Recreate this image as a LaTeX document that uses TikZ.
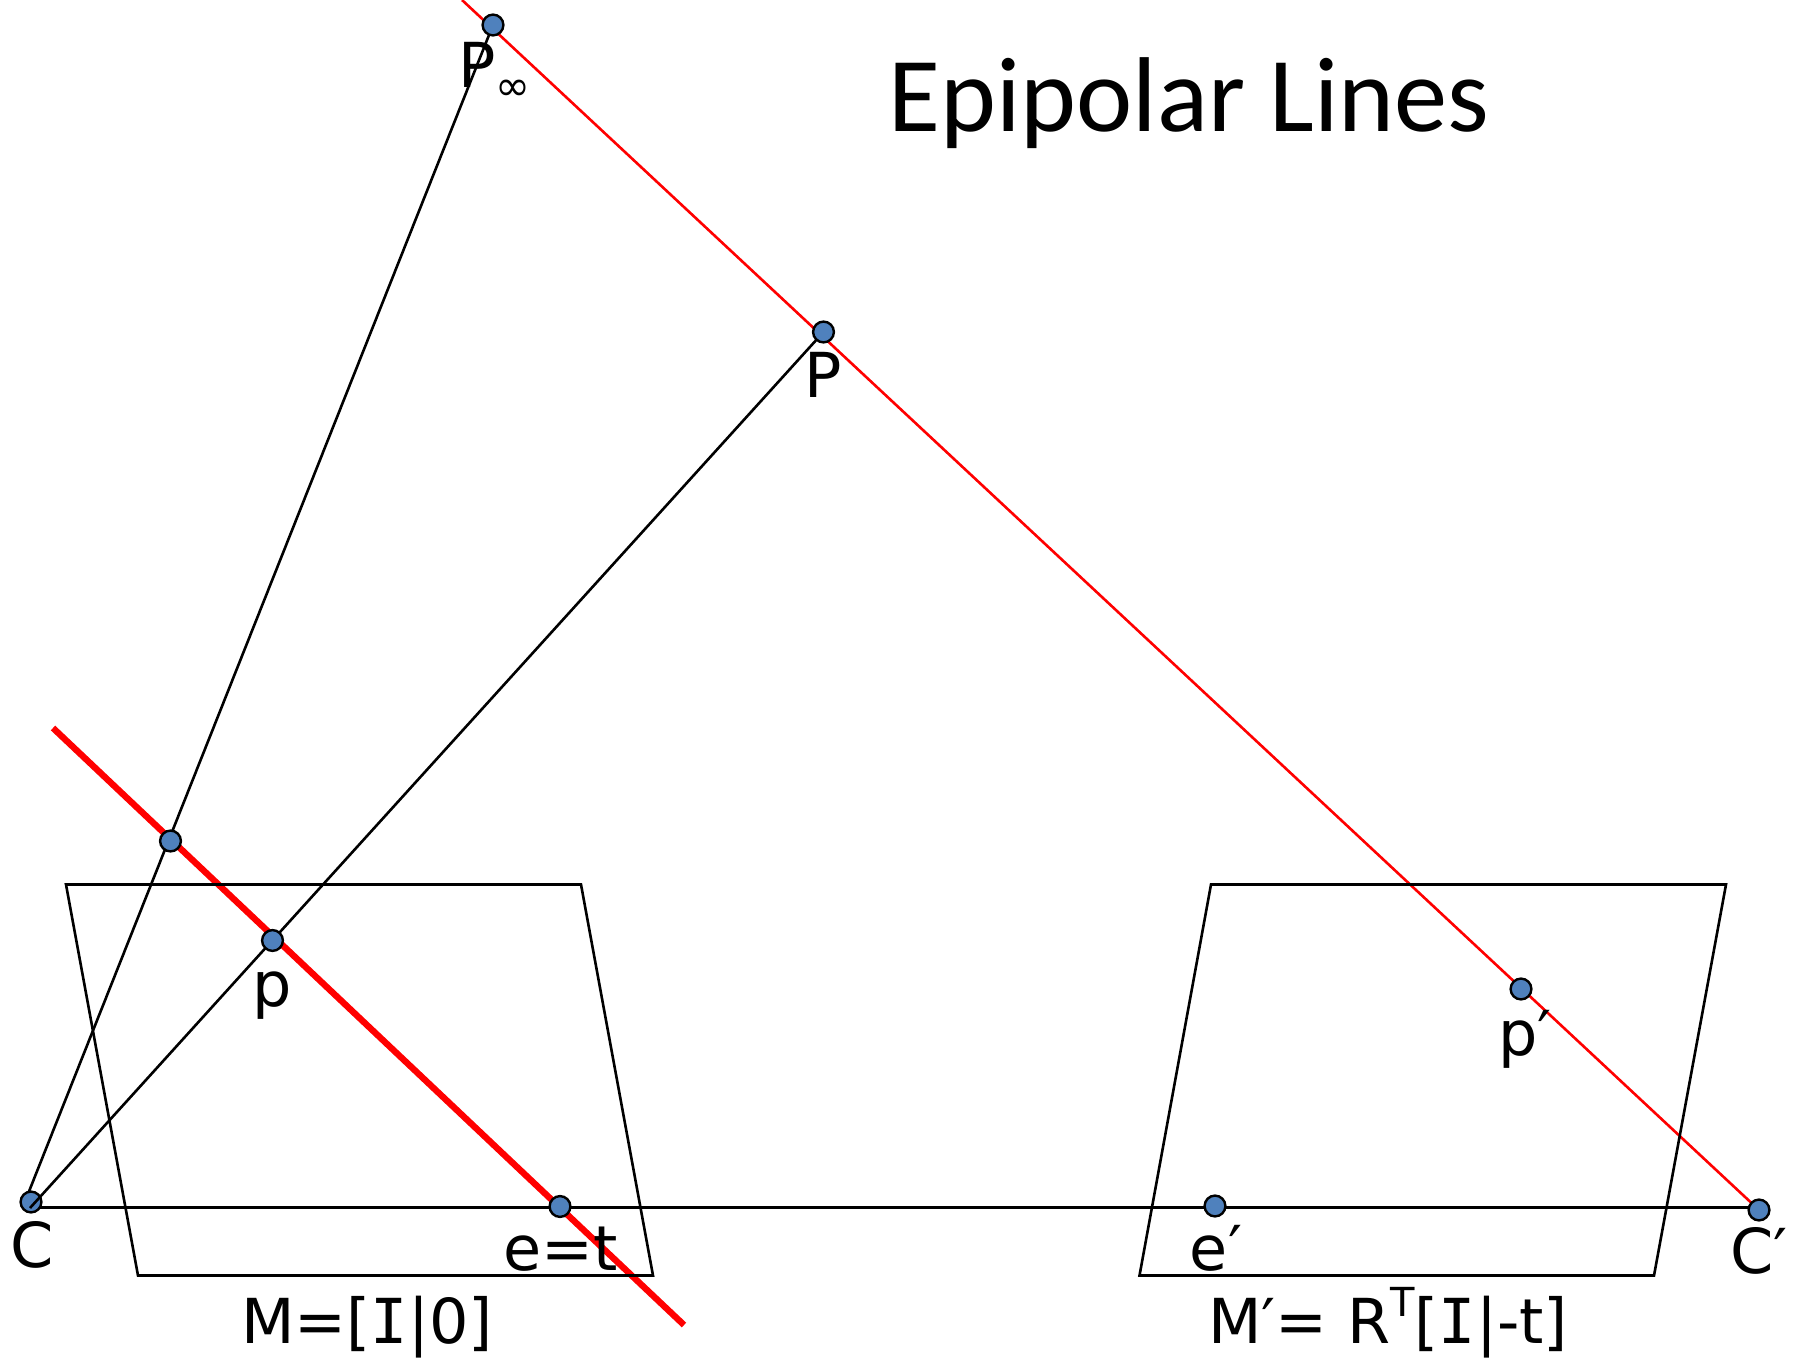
\documentclass[tikz,border=0pt]{standalone}
\usepackage{fontspec}
\setmainfont{DejaVu Sans}
\newfontfamily\titlefont{Carlito}
\newfontfamily\serifI{DejaVu Sans Mono}
\newfontfamily\symfont{DejaVu Sans}
\usetikzlibrary{backgrounds}
\definecolor{dotblue}{HTML}{4F81BD}
\newcommand{\labI}{{\serifI I}}
\tikzset{
  dot/.style={circle,draw=black,fill=dotblue,line width=1.2pt,minimum size=10.4pt,inner sep=0pt},
  blackline/.style={draw=black,line width=1.3pt},
  redthin/.style={draw=red,line width=1.3pt},
  redthick/.style={draw=red,line width=3.2pt},
  planebox/.style={draw=black,line width=1.3pt,line join=miter},
  lab/.style={anchor=base,inner sep=0pt,font=\fontsize{31}{31}\selectfont},
  titlelab/.style={anchor=base,inner sep=0pt,font=\titlefont\fontsize{53.2}{53.2}\selectfont}
}
\begin{document}
\begin{tikzpicture}[x=0.5pt,y=-0.5pt]
\useasboundingbox (0,0) rectangle (1803,1358);
% free ends
\coordinate (redtop) at (462,0);
\coordinate (thickA) at (53,728);
\coordinate (thickB) at (684,1325);
\coordinate (Cfoot) at (30,1208);
\coordinate (Cback) at (24,1204);
\coordinate (hL) at (36,1207.5);
\coordinate (hR) at (1752,1207.5);
% planes
\draw[planebox] (66,884.5) -- (581,884.5) -- (653,1275.5) -- (138,1275.5) -- cycle;
\draw[planebox] (1211,884.5) -- (1726,884.5) -- (1654,1275.5) -- (1139.5,1275.5) -- cycle;
% points on top
\node[dot] (Pinf) at (493,25) {};
\node[dot] (P) at (823.5,332) {};
\node[dot] (q) at (170.5,841) {};
\node[dot] (p) at (272.5,940.5) {};
\node[dot] (pp) at (1521,989) {};
\node[dot] (e) at (560,1206.5) {};
\node[dot] (ep) at (1215,1206) {};
\node[dot] (Cp) at (1759,1210) {};
\begin{scope}[on background layer]
  \draw[redthin] (redtop) -- (Cp.center);
  \draw[redthick] (thickA) -- (thickB);
  \draw[blackline] (hL) -- (hR);
  \draw[blackline] (Cback) -- (Pinf.center);
  \node[dot] (C) at (31,1202) {};
  \draw[blackline] (Cfoot) -- (P.center);
\end{scope}
% labels
\node[titlelab] (title) at (1189,132) {Epipolar Lines};
\node[lab,anchor=base west] (PinfL) at (458,88) {P};
\node[anchor=center,inner sep=0pt,font=\symfont\fontsize{21}{21}\selectfont] (infL) at (513,90) {∞};
\node[lab] (PL) at (823,397) {P};
\node[lab] (pL) at (272,1006) {p};
\node[lab] (ppL) at (1525,1055) {p′};
\node[lab] (CL) at (32,1267) {C};
\node[lab] (eL) at (561,1270) {e=t};
\node[lab] (epL) at (1216,1270) {e′};
\node[lab] (CpL) at (1759,1273) {C′};
\node[lab] (ML) at (367,1343) {M=[\labI|0]};
\node[lab] (MpL) at (1388,1343) {M′= R\raisebox{0.42em}{\fontsize{20}{20}\selectfont T}[\labI|-t]};
\end{tikzpicture}
\end{document}
